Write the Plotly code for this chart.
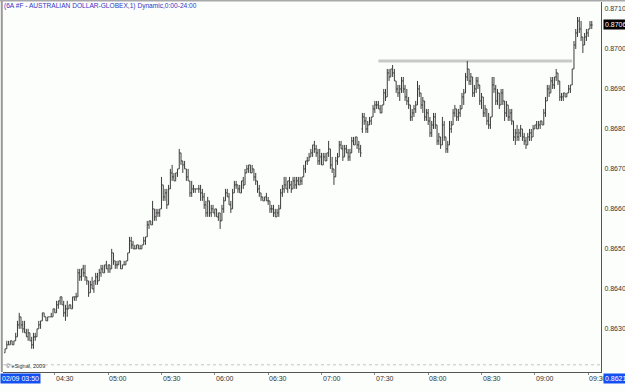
import plotly.graph_objects as go

BASE = 0.8600  # prices stored as pips above 0.8600

open_pips = [
    24,25,26,26,27,26,27,28,31,33, 31,30,29,28,29,27,26,28,28,30,
    31,32,34,33,32,33,33,33,35,34, 36,37,38,36,34,35,35,36,35,38,
    38,38,44,43,45,44,43,42,39,41, 40,42,43,42,44,45,44,46,45,46,
    45,49,47,46,46,47,45,46,46,47, 49,52,51,50,50,51,50,50,51,52,
    53,56,57,56,60,58,59,59,60,66, 63,64,61,65,69,68,67,69,70,74,
    72,71,70,68,67,64,65,65,65,65, 65,64,63,61,59,62,59,60,59,60,
    58,59,57,60,62,64,63,61,60,64, 66,66,65,64,67,66,69,70,71,69,
    70,68,67,65,64,63,62,63,62,62, 60,60,59,58,59,60,64,65,66,65,
    67,66,65,67,66,67,66,67,68,70, 72,72,73,74,76,75,74,72,73,71,
    73,72,74,75,71,70,68,72,73,76, 75,73,75,74,73,74,77,76,78,76,
    75,80,83,82,80,81,82,83,85,86, 86,85,84,86,89,88,94,93,95,94,
    92,90,89,90,92,90,88,87,86,83, 84,85,86,90,89,86,87,83,84,82,
    79,81,83,81,77,78,76,81,78,75, 76,80,81,84,85,83,84,85,88,89,
    93,95,92,93,89,90,92,91,87,88, 84,85,82,81,83,91,90,87,89,86,
    89,87,84,86,83,84,82,78,79,78, 79,80,78,77,76,78,79,78,80,81,
    80,81,82,81,84,87,90,89,92,91, 93,94,92,88,88,89,88,89,90,91,
    95,101,104,107,105,103,101,103,104,105,106,
]
high_pips = [
    25,27,27,27,27,27,29,32,34,33, 32,32,30,30,29,28,29,29,30,32,
    32,34,34,33,33,33,34,35,35,37, 37,38,38,37,36,37,36,36,38,38,
    39,45,45,45,46,46,43,42,42,43, 42,44,44,45,46,46,46,47,46,46,
    50,49,47,47,47,47,46,47,47,49, 53,53,52,51,51,51,51,51,53,53,
    57,57,57,62,60,60,60,60,68,66, 65,65,66,70,71,69,69,70,75,74,
    72,72,70,70,67,67,66,65,65,66, 66,65,64,62,63,62,61,61,60,60,
    59,59,61,63,65,65,64,62,65,67, 67,66,66,67,68,70,71,71,71,71,
    70,69,67,66,64,63,63,64,63,62, 61,61,60,60,61,65,66,68,68,67,
    68,67,68,68,68,68,68,68,71,72, 73,74,75,76,77,76,75,75,74,74,
    74,74,77,75,73,70,73,74,77,77, 76,76,76,75,75,78,78,78,78,77,
    76,84,84,83,82,83,83,86,87,87, 87,86,86,90,90,95,95,95,96,95,
    92,91,91,93,93,91,90,88,86,85, 86,87,92,91,89,88,87,85,85,83,
    82,84,84,81,79,78,83,82,78,77, 82,82,85,86,85,85,86,89,90,94,
    97,95,94,93,91,93,93,91,89,88, 86,85,84,83,93,93,91,90,89,90,
    90,87,87,86,85,85,82,80,81,80, 81,80,79,78,79,80,80,81,81,82,
    82,82,82,85,88,91,91,93,93,93, 95,94,92,89,89,89,89,91,91,95,
    102,105,108,108,107,103,104,105,105,107,107,
]
low_pips = [
    24,25,26,26,26,26,27,28,30,30, 29,29,28,27,27,25,25,27,28,30,
    30,32,33,32,32,33,33,33,34,34, 35,36,36,33,32,33,35,35,35,37,
    37,38,42,42,43,42,41,38,39,40, 39,41,41,42,43,44,44,45,44,44,
    45,46,45,45,46,45,45,46,46,47, 49,50,50,50,50,50,50,50,51,51,
    53,55,56,56,57,57,58,58,60,62, 62,60,61,65,67,67,67,68,70,71,
    69,70,67,67,63,63,64,64,65,64, 62,62,60,58,58,58,58,59,58,58,
    57,55,57,59,62,63,61,59,60,64, 65,64,64,64,65,66,69,69,69,69,
    67,66,64,63,62,62,62,62,61,59, 59,58,58,58,58,60,63,64,65,64,
    65,64,65,65,65,66,66,66,68,69, 71,72,73,73,74,73,71,71,71,71,
    72,72,73,70,69,66,68,71,73,75, 72,73,74,72,72,74,76,76,75,74,
    73,79,81,79,79,81,81,83,84,85, 85,84,84,86,87,88,92,93,93,92,
    89,88,87,89,89,87,86,85,82,82, 83,84,86,88,85,84,82,82,81,78,
    78,80,80,76,76,75,76,77,74,74, 76,79,81,83,82,82,83,85,86,89,
    92,91,91,88,88,89,90,86,85,83, 83,81,80,80,83,89,86,86,85,86,
    86,82,83,82,82,81,77,76,77,77, 78,77,76,75,76,77,77,78,80,80,
    80,80,81,81,83,87,88,89,90,90, 92,91,87,87,87,88,88,89,89,91,
    95,100,103,104,102,99,101,102,103,105,105,
]
close_pips = [
    25,26,26,27,26,27,28,31,33,31, 30,29,28,29,27,26,28,28,30,31,
    32,34,33,32,33,33,33,35,34,36, 37,38,36,34,35,35,36,35,38,38,
    38,44,43,45,44,43,42,39,41,40, 42,43,42,44,45,44,46,45,46,45,
    49,47,46,46,47,45,46,46,47,49, 52,51,50,50,51,50,50,51,52,53,
    56,57,56,60,58,59,59,60,66,63, 64,61,65,69,68,67,69,70,74,72,
    71,70,68,67,64,65,65,65,65,65, 64,63,61,59,62,59,60,59,60,58,
    59,57,60,62,64,63,61,60,64,66, 66,65,64,67,66,69,70,71,69,70,
    68,67,65,64,63,62,63,62,62,60, 60,59,58,59,60,64,65,66,65,67,
    66,65,67,66,67,66,67,68,70,72, 72,73,74,76,75,74,72,73,71,73,
    72,74,75,71,70,68,72,73,76,75, 73,75,74,73,74,77,76,78,76,75,
    74,83,82,80,81,82,83,85,86,86, 85,84,86,89,88,94,93,95,94,92,
    90,89,90,92,90,88,87,86,83,84, 85,86,90,89,86,87,83,84,82,79,
    81,83,81,77,78,76,81,78,75,76, 80,81,84,85,83,84,85,88,89,93,
    95,92,93,89,90,92,91,87,88,84, 85,82,81,83,91,90,87,89,86,89,
    87,84,86,83,84,82,78,79,78,79, 80,78,77,76,78,79,78,80,81,80,
    81,82,81,84,87,90,89,92,91,93, 94,92,88,88,89,88,89,90,91,95,
    101,104,107,105,103,101,103,104,105,106,106,
]

time_tick_bars = [28, 58, 88, 118, 148, 178, 208, 238, 268, 298, 328]
time_tick_labels = ["04:30", "05:00", "05:30", "06:00", "06:30", "07:00",
                    "07:30", "08:00", "08:30", "09:00", "09:30"]
first_label = "02/09 03:50"
price_ticks = [0.8630, 0.8640, 0.8650, 0.8660, 0.8670, 0.8680, 0.8690, 0.8700, 0.8710]
last_price = 0.8706
scale_low_price = 0.8621
resistance_price = 0.8697
resistance_bars = [210, 319]
title_text = "(6A #F - AUSTRALIAN DOLLAR-GLOBEX,1) Dynamic,0:00-24:00"

def to_price(p):
    return [round(BASE + v / 10000.0, 4) for v in p]

n = len(close_pips)
xs = list(range(n))
bar_color = "#3c3c3c"
bg = "#fcfefc"
font_fam = "Liberation Sans, Arial, sans-serif"
lab_size = 7

fig = go.Figure()
fig.add_trace(go.Ohlc(
    x=xs, open=to_price(open_pips), high=to_price(high_pips),
    low=to_price(low_pips), close=to_price(close_pips),
    increasing=dict(line=dict(color=bar_color, width=1)),
    decreasing=dict(line=dict(color=bar_color, width=1)),
    tickwidth=0.5, showlegend=False, hoverinfo="skip",
))

shapes = [
    dict(type="line", xref="x", yref="y", x0=resistance_bars[0], x1=resistance_bars[1],
         y0=resistance_price, y1=resistance_price, line=dict(color="#c8c8c8", width=3),
         layer="below"),
    dict(type="line", xref="paper", yref="y", x0=0, x1=1, y0=scale_low_price,
         y1=scale_low_price, line=dict(color="#c4c4c4", width=1, dash="dot"), layer="below"),
    dict(type="line", xref="paper", yref="paper", x0=-0.002, x1=-0.002, y0=0, y1=1.01,
         line=dict(color="#9a9a9a", width=2)),
    dict(type="line", xref="paper", yref="paper", x0=-0.01, x1=1.05, y0=1.004, y1=1.004,
         line=dict(color="#a8a8a8", width=2)),
]

annotations = [
    dict(text=title_text, xref="paper", yref="paper", x=-0.002, y=0.988, xanchor="left",
         yanchor="middle", showarrow=False, font=dict(family=font_fam, size=6.6, color="#3434c4")),
    dict(text="\u00a9 eSignal, 2009", xref="paper", yref="paper", x=0.001, y=0.016,
         xanchor="left", yanchor="middle", showarrow=False,
         font=dict(family=font_fam, size=5.5, color="#333333")),
    dict(text=first_label, xref="paper", yref="paper", x=-0.005, y=-0.004, xanchor="left",
         yanchor="top", showarrow=False, bgcolor="#1450f0", borderpad=1,
         font=dict(family=font_fam, size=lab_size, color="white")),
]
for tb, tl in zip(time_tick_bars, time_tick_labels):
    annotations.append(dict(text=tl, xref="x", yref="paper", x=tb - 0.5, y=-0.004,
                            xanchor="left", yanchor="top", showarrow=False,
                            font=dict(family=font_fam, size=lab_size, color="#333333")))
annotations += [
    dict(text=f"{last_price:.4f}", xref="paper", yref="y", x=1.003, y=last_price,
         xanchor="left", yanchor="middle", showarrow=False, bgcolor="#000000", borderpad=1,
         font=dict(family=font_fam, size=lab_size, color="white")),
    dict(text=f"{scale_low_price:.4f}", xref="paper", yref="paper", x=1.003, y=-0.004,
         xanchor="left", yanchor="top", showarrow=False, bgcolor="#1450f0", borderpad=1,
         font=dict(family=font_fam, size=lab_size, color="white")),
]

fig.update_layout(
    width=625, height=392,
    margin=dict(l=3, r=24, t=2, b=20, pad=0),
    paper_bgcolor=bg, plot_bgcolor=bg,
    shapes=shapes, annotations=annotations,
    xaxis=dict(range=[-1.13, 335.2], showgrid=False, zeroline=False,
               rangeslider=dict(visible=False), tickvals=time_tick_bars,
               showticklabels=False, ticks="outside", ticklen=2, tickcolor="#888888",
               showline=True, linecolor="#555555", linewidth=1, fixedrange=True),
    yaxis=dict(range=[0.86192, 0.871175], side="right", showgrid=False, zeroline=False,
               tickvals=price_ticks, ticktext=[f"{p:.4f}" for p in price_ticks],
               tickfont=dict(family=font_fam, size=lab_size, color="#333333"),
               ticks="", showline=True, linecolor="#555555", linewidth=1,
               ticklabelstandoff=1, automargin=False, fixedrange=True),
)

fig.write_html("out.html")
